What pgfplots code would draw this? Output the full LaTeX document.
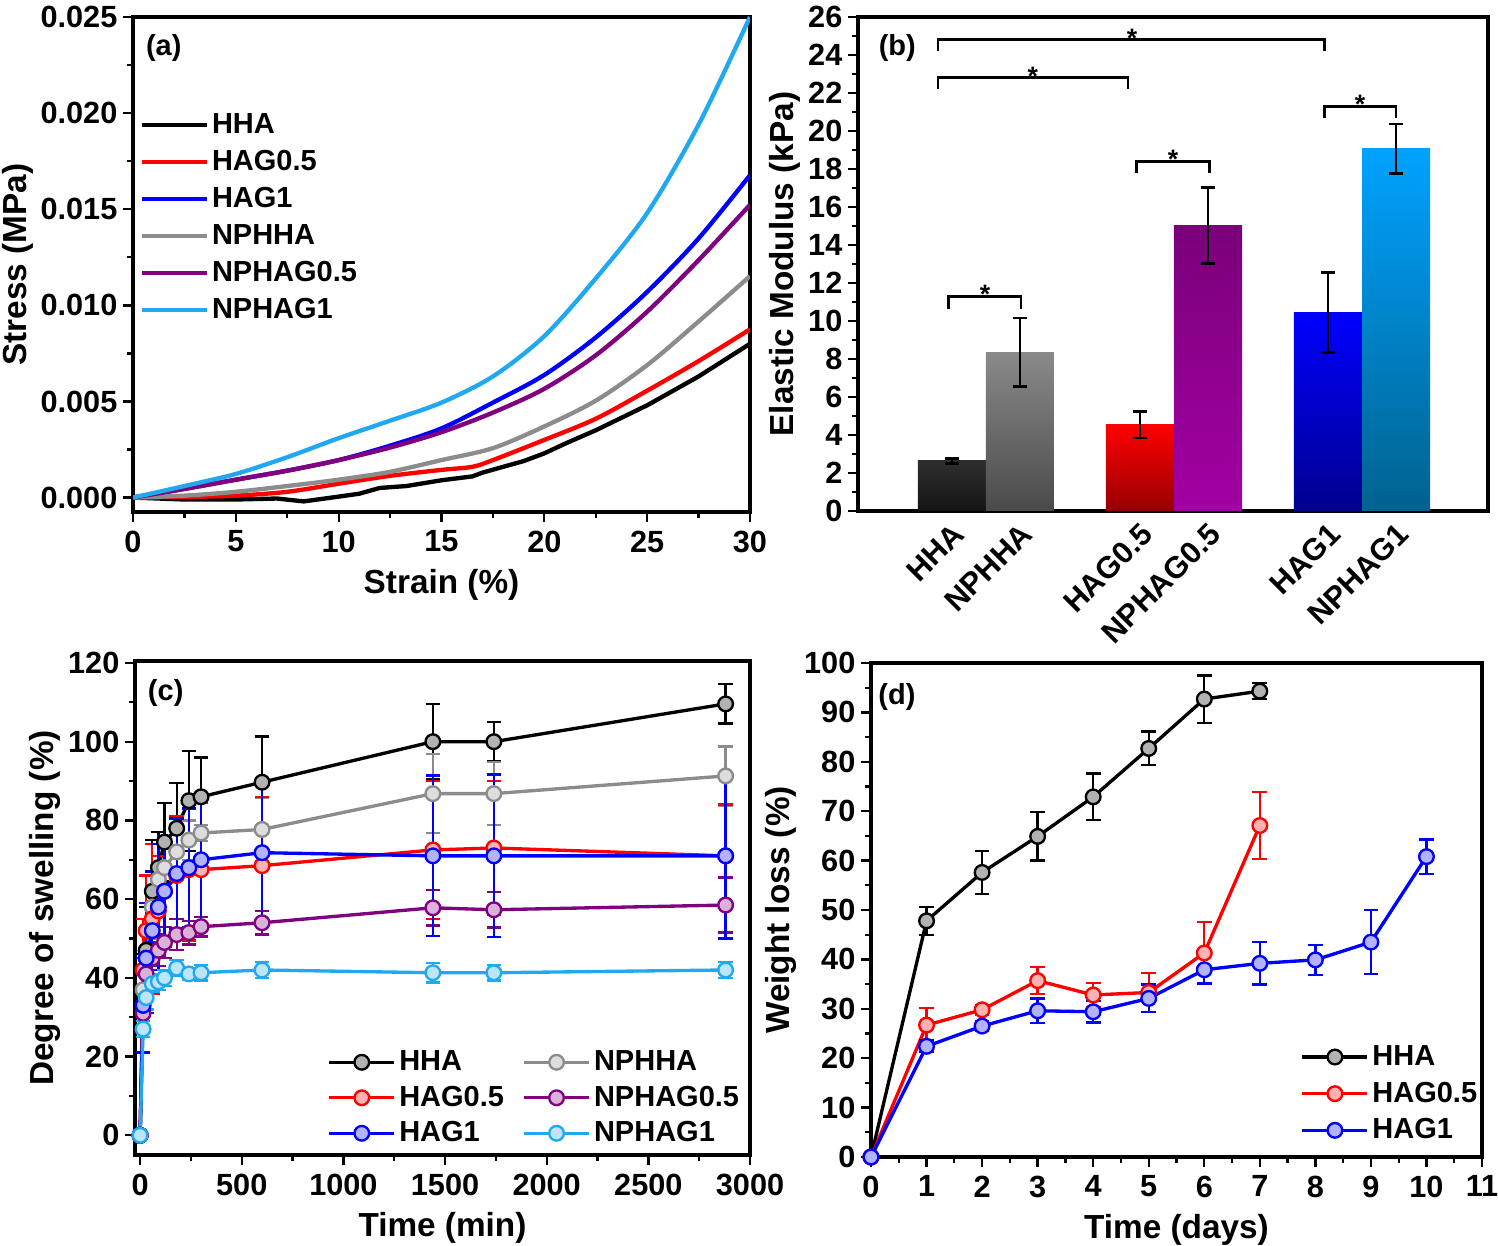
\documentclass[border=0pt]{standalone}
\usepackage{fontspec}
\setmainfont{Liberation Sans}
\usepackage{pgfplots}
\pgfplotsset{compat=1.18}

\definecolor{cgray}{HTML}{8C8C8C}
\definecolor{cpurple}{HTML}{800080}
\definecolor{clblue}{HTML}{20A8F0}
\definecolor{cred}{HTML}{FF0000}
\definecolor{cblue}{HTML}{0000FF}

\tikzset{plab/.style={font=\fontsize{8.7}{10}\selectfont\bfseries, anchor=west, inner sep=0pt}}

\pgfplotsset{
  panel/.style={
    scale only axis,
    axis line style={line width=1pt},
    tick align=outside,
    tick pos=left,
    minor tick num=1,
    major tick length=3pt, minor tick length=1.8pt,
    tick style={line width=0.7pt, black},
    /pgf/number format/assume math mode=true,
    /pgf/number format/1000 sep={},
    tick label style={font=\fontsize{9.2}{10}\selectfont\bfseries},
    yticklabel style={inner sep=1.5pt},
    xticklabel style={inner sep=2.4pt},
    label style={font=\fontsize{10}{12}\selectfont\bfseries},
    ylabel style={inner sep=0.5pt},
    xlabel style={inner sep=2.4pt},
    legend style={draw=none, fill=none, font=\fontsize{8.7}{10}\selectfont\bfseries,
      nodes={inner sep=1pt, text height=7pt, text depth=2pt}},
    legend cell align=left,
  },
  mkleg/.style={legend image code/.code={
    \draw[mark repeat=2, mark phase=2, ##1] plot coordinates {(0pt,0pt) (9.75pt,0pt) (19.5pt,0pt)};}},
  sw/.style={color=#1, line width=1pt, mark=*, mark size=2.2pt,
    mark options={solid, fill=#1!30!white, draw=#1, line width=0.7pt},
    error bars/y dir=both, error bars/y explicit,
    error bars/error bar style={line width=0.7pt, color=#1},
    error bars/error mark options={rotate=90, mark size=2.2pt, line width=0.7pt, color=#1}},
}

\begin{document}
\begin{tikzpicture}
\useasboundingbox (0,0) rectangle (449.4pt,373.8pt);

% (a) stress-strain
\begin{axis}[panel, at={(39.9pt,220.2pt)}, anchor=south west,
  width=185.1pt, height=148.5pt,
  xmin=0, xmax=30, ymin=-0.00075, ymax=0.025,
  xtick={0,5,10,15,20,25,30}, ytick={0,0.005,0.010,0.015,0.020,0.025},
  scaled y ticks=false,
  yticklabel style={/pgf/number format/.cd, fixed, fixed zerofill, precision=3},
  xlabel={Strain (\%)}, ylabel={Stress (MPa)},
  legend image code/.code={\draw[#1] (0pt,0pt) -- (19.5pt,0pt);},
  legend style={at={(-0.007,0.834)}, anchor=north west, row sep=0.1pt},
  every axis plot/.append style={line width=1.3pt},
]
\addplot[black] coordinates {(0,0) (2.5,-0.0001) (5,-0.0001) (7,-0.00005) (8.3,-0.0002) (10,0.00005) (11,0.0002) (12,0.0005) (13.3,0.0006) (15,0.0009) (16.5,0.0011) (17,0.0013) (18,0.0016) (19,0.0019) (20,0.0023) (21,0.0028) (22.5,0.0035) (25,0.0048) (27.5,0.0063) (30,0.0080)};
\addlegendentry{HHA}
\addplot[cred, smooth] coordinates {(0,0) (2.5,0.00003) (5,0.0001) (7.5,0.0003) (10,0.00072) (12.5,0.00113) (15,0.00144) (16.5,0.0016) (17.5,0.00195) (20,0.003) (22.5,0.0041) (25,0.00556) (27.5,0.0071) (30,0.00875)};
\addlegendentry{HAG0.5}
\addplot[cblue, smooth] coordinates {(0,0) (2.5,0.00045) (5,0.00093) (7.5,0.0014) (10,0.00195) (12.5,0.0027) (15,0.0036) (17.5,0.00494) (20,0.00638) (22.5,0.00833) (25,0.0107) (27.5,0.01348) (30,0.01677)};
\addlegendentry{HAG1}
\addplot[cgray, smooth] coordinates {(0,0) (2.5,0.0001) (5,0.0003) (7.5,0.0006) (10,0.00093) (12.5,0.00134) (15,0.00195) (17.5,0.00257) (20,0.0037) (22.5,0.00504) (25,0.00689) (27.5,0.00916) (30,0.01152)};
\addlegendentry{NPHHA}
\addplot[cpurple, smooth] coordinates {(0,0) (2.5,0.00045) (5,0.00093) (7.5,0.0014) (10,0.00195) (12.5,0.0026) (15,0.0034) (17.5,0.00442) (20,0.00566) (22.5,0.0074) (25,0.00967) (27.5,0.01235) (30,0.01523)};
\addlegendentry{NPHAG0.5}
\addplot[clblue, smooth] coordinates {(0,0) (2.5,0.0006) (5,0.00123) (7.5,0.0021) (10,0.00309) (12.5,0.004) (15,0.00494) (17.5,0.0063) (20,0.0084) (22.5,0.0114) (25,0.0148) (27.5,0.0194) (30,0.025)};
\addlegendentry{NPHAG1}
\node[plab] at (rel axis cs:0.02,0.937) {(a)};
\end{axis}

% (b) elastic modulus
\begin{axis}[panel, at={(257.4pt,220.5pt)}, anchor=south west,
  width=189pt, height=148.2pt,
  xmin=0.32, xmax=3.67, ymin=0, ymax=26,
  ytick={0,2,...,26}, minor x tick num=0,
  xtick={0.819,1.181,1.819,2.181,2.819,3.181},
  xticklabels={HHA,NPHHA,HAG0.5,NPHAG0.5,HAG1,NPHAG1},
  major x tick style={draw=none},
  xticklabel style={rotate=45, anchor=north east, inner sep=1pt, yshift=1.2pt, xshift=1pt},
  ylabel={Elastic Modulus (kPa)},
]
\addplot[ybar, bar width=0.362, bar shift=0pt, draw=none, top color=black!82, bottom color=black!92] coordinates {(0.819,2.64)};
\addplot[ybar, bar width=0.362, bar shift=0pt, draw=none, top color=black!46, bottom color=black!71] coordinates {(1.181,8.36)};
\addplot[ybar, bar width=0.362, bar shift=0pt, draw=none, top color={rgb,255:red,255;green,0;blue,0}, bottom color={rgb,255:red,150;green,0;blue,0}] coordinates {(1.819,4.55)};
\addplot[ybar, bar width=0.362, bar shift=0pt, draw=none, top color={rgb,255:red,122;green,0;blue,122}, bottom color={rgb,255:red,163;green,0;blue,163}] coordinates {(2.181,15.04)};
\addplot[ybar, bar width=0.362, bar shift=0pt, draw=none, top color={rgb,255:red,0;green,0;blue,255}, bottom color={rgb,255:red,0;green,0;blue,143}] coordinates {(2.819,10.44)};
\addplot[ybar, bar width=0.362, bar shift=0pt, draw=none, top color={rgb,255:red,0;green,162;blue,255}, bottom color={rgb,255:red,0;green,98;blue,143}] coordinates {(3.181,19.07)};
\addplot[draw=none, forget plot,
  error bars/.cd, y dir=both, y explicit,
  error bar style={draw=black, line width=0.8pt},
  error mark options={draw=black, rotate=90, mark size=2.2pt, line width=0.8pt}]
  coordinates {(0.819,2.64) +- (0,0.13) (1.181,8.36) +- (0,1.8) (1.819,4.55) +- (0,0.7)
               (2.181,15.04) +- (0,2.0) (2.819,10.44) +- (0,2.1) (3.181,19.07) +- (0,1.3)};
\begin{scope}[line width=0.8pt]
\draw (axis cs:0.745,24.2) |- (axis cs:2.80,24.8) -- (axis cs:2.80,24.2);
\draw (axis cs:0.745,22.2) |- (axis cs:1.755,22.8) -- (axis cs:1.755,22.2);
\draw (axis cs:0.80,10.65) |- (axis cs:1.186,11.3) -- (axis cs:1.186,10.65);
\draw (axis cs:1.80,17.8) |- (axis cs:2.19,18.4) -- (axis cs:2.19,17.8);
\draw (axis cs:2.80,20.7) |- (axis cs:3.18,21.3) -- (axis cs:3.18,20.7);
\end{scope}
\begin{scope}[every node/.style={anchor=base, font=\fontsize{8}{9}\selectfont\bfseries}]
\node at (axis cs:1.777,24.4) {*};
\node at (axis cs:1.25,22.4) {*};
\node at (axis cs:0.995,10.9) {*};
\node at (axis cs:1.995,18.0) {*};
\node at (axis cs:2.99,20.9) {*};
\end{scope}
\node[plab] at (rel axis cs:0.032,0.937) {(b)};
\end{axis}

% (c) swelling
\begin{axis}[panel, mkleg, at={(40.5pt,27.3pt)}, anchor=south west,
  width=184.5pt, height=148.2pt,
  xmin=-25, xmax=3000, ymin=-5, ymax=120.5,
  xtick={0,500,...,3000}, ytick={0,20,...,120},
  scaled x ticks=false,
  xlabel={Time (min)}, ylabel={Degree of swelling (\%)},
  legend columns=2,
  legend style={at={(1.005,-0.008)}, anchor=south east, row sep=-0.35pt,
    /tikz/every even column/.append style={column sep=4.5pt}},
]
\addplot[sw=black] table[x=t, y=v, y error=e] {
t v e
0 0 0
15 36 10
30 47 11
60 62 13
90 68 9
120 74.5 10
180 78 11.5
240 85 12.7
300 86 10
600 89.7 11.6
1440 100 9.5
1740 100 5
2880 109.6 5
};
\addlegendentry{HHA}
\addplot[sw=cgray] table[x=t, y=v, y error=e] {
t v e
0 0 0
15 37 8
30 45 7
60 58 8
90 65 9
120 68 7
180 72 7
240 75 5
300 76.8 2
600 77.7 8
1440 86.8 10
1740 86.8 8
2880 91.3 7.5
};
\addlegendentry{NPHHA}
\addplot[sw=cred] table[x=t, y=v, y error=e] {
t v e
0 0 0
15 42 13
30 52 14
60 55 19
90 57 14
120 62 12
180 66 15
240 67.5 18
300 67.5 17
600 68.5 17.5
1440 72.5 17.5
1740 73 17
2880 71 13
};
\addlegendentry{HAG0.5}
\addplot[sw=cpurple] table[x=t, y=v, y error=e] {
t v e
0 0 0
15 31 3
30 41 4
60 45 4
90 47 4
120 49 4
180 51 4
240 51.5 3
300 53 2.5
600 54 3
1440 57.8 4.5
1740 57.3 4.5
2880 58.5 7
};
\addlegendentry{NPHAG0.5}
\addplot[sw=cblue] table[x=t, y=v, y error=e] {
t v e
0 0 0
15 33 12
30 45 14
60 52 15
90 58 16
120 62 14
180 66.5 14
240 68 15
300 70 17
600 71.8 17.5
1440 71 20.4
1740 71 20.7
2880 71 21
};
\addlegendentry{HAG1}
\addplot[sw=clblue] table[x=t, y=v, y error=e] {
t v e
0 0 0
15 27 2
30 35 3
60 38.5 2
90 39 2
120 40 2
180 42.5 2
240 41 1.5
300 41.3 2
600 42 2
1440 41.3 2.5
1740 41.3 2
2880 42 2
};
\addlegendentry{NPHAG1}
\node[plab] at (rel axis cs:0.02,0.935) {(c)};
\end{axis}

% (d) weight loss
\begin{axis}[panel, mkleg, at={(261.3pt,26.7pt)}, anchor=south west,
  width=183.3pt, height=148.2pt,
  xmin=0, xmax=11, ymin=0, ymax=100,
  xtick={0,1,...,11}, ytick={0,10,...,100},
  xlabel={Time (days)}, ylabel={Weight loss (\%)},
  legend style={at={(1.015,0.002)}, anchor=south east, row sep=0pt},
]
\addplot[sw=black] table[x=d, y=v, y error=e] {
d v e
0 0 0
1 47.8 2.8
2 57.6 4.3
3 64.9 4.9
4 72.9 4.7
5 82.7 3.4
6 92.7 4.8
7 94.3 1.6
};
\addlegendentry{HHA}
\addplot[sw=cred] table[x=d, y=v, y error=e] {
d v e
0 0 0
1 26.7 3.4
2 29.8 1
3 35.7 2.7
4 32.8 2.4
5 33.3 4
6 41.3 6.3
7 67.1 6.8
};
\addlegendentry{HAG0.5}
\addplot[sw=cblue] table[x=d, y=v, y error=e] {
d v e
0 0 0
1 22.4 1.2
2 26.5 1
3 29.6 2.5
4 29.4 2.2
5 32.1 2.8
6 37.9 2.8
7 39.2 4.3
8 39.9 3
9 43.5 6.5
10 60.8 3.5
};
\addlegendentry{HAG1}
\node[plab] at (rel axis cs:0.011,0.931) {(d)};
\end{axis}
\end{tikzpicture}
\end{document}
